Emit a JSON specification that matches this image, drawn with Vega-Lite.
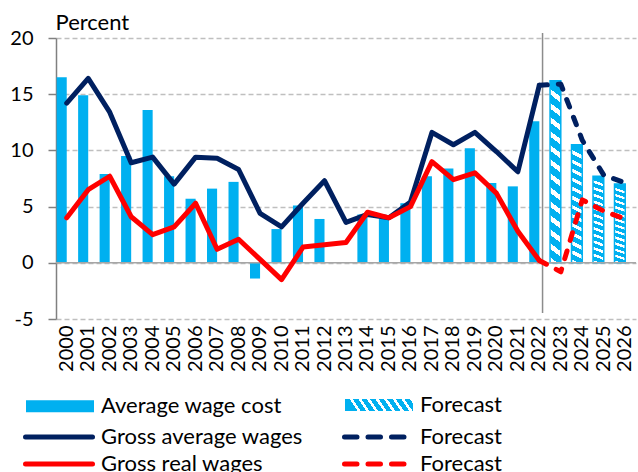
{
  "$schema": "https://vega.github.io/schema/vega-lite/v6.json",
  "autosize": {"type": "none"},
  "width": 580,
  "height": 281,
  "padding": {"left": 56, "top": 38, "right": 2, "bottom": 153},
  "background": "white",
  "config": {
    "view": {"stroke": null},
    "font": "Lato",
    "axis": {"labelFont": "Lato", "titleFont": "Lato", "labelColor": "#000000", "titleColor": "#000000"}
  },
  "datasets": {
    "bars": [
      {"year": "2000", "value": 16.5, "series": "Average wage cost"},
      {"year": "2001", "value": 14.9, "series": "Average wage cost"},
      {"year": "2002", "value": 7.9, "series": "Average wage cost"},
      {"year": "2003", "value": 9.5, "series": "Average wage cost"},
      {"year": "2004", "value": 13.6, "series": "Average wage cost"},
      {"year": "2005", "value": 7.7, "series": "Average wage cost"},
      {"year": "2006", "value": 5.7, "series": "Average wage cost"},
      {"year": "2007", "value": 6.6, "series": "Average wage cost"},
      {"year": "2008", "value": 7.2, "series": "Average wage cost"},
      {"year": "2009", "value": -1.4, "series": "Average wage cost"},
      {"year": "2010", "value": 3.0, "series": "Average wage cost"},
      {"year": "2011", "value": 5.1, "series": "Average wage cost"},
      {"year": "2012", "value": 3.9, "series": "Average wage cost"},
      {"year": "2014", "value": 4.3, "series": "Average wage cost"},
      {"year": "2015", "value": 3.9, "series": "Average wage cost"},
      {"year": "2016", "value": 5.3, "series": "Average wage cost"},
      {"year": "2017", "value": 7.7, "series": "Average wage cost"},
      {"year": "2018", "value": 8.4, "series": "Average wage cost"},
      {"year": "2019", "value": 10.2, "series": "Average wage cost"},
      {"year": "2020", "value": 7.1, "series": "Average wage cost"},
      {"year": "2021", "value": 6.8, "series": "Average wage cost"},
      {"year": "2022", "value": 12.6, "series": "Average wage cost"}
    ],
    "fcbars": [
      {"year": "2023", "value": 16.2, "series": "Forecast awc"},
      {"year": "2024", "value": 10.5, "series": "Forecast awc"},
      {"year": "2025", "value": 7.7, "series": "Forecast awc"},
      {"year": "2026", "value": 7.0, "series": "Forecast awc"}
    ],
    "lines": [
      {"year": "2000", "value": 14.2, "series": "Gross average wages"},
      {"year": "2001", "value": 16.4, "series": "Gross average wages"},
      {"year": "2002", "value": 13.4, "series": "Gross average wages"},
      {"year": "2003", "value": 8.9, "series": "Gross average wages"},
      {"year": "2004", "value": 9.4, "series": "Gross average wages"},
      {"year": "2005", "value": 7.0, "series": "Gross average wages"},
      {"year": "2006", "value": 9.4, "series": "Gross average wages"},
      {"year": "2007", "value": 9.3, "series": "Gross average wages"},
      {"year": "2008", "value": 8.3, "series": "Gross average wages"},
      {"year": "2009", "value": 4.4, "series": "Gross average wages"},
      {"year": "2010", "value": 3.2, "series": "Gross average wages"},
      {"year": "2011", "value": 5.3, "series": "Gross average wages"},
      {"year": "2012", "value": 7.3, "series": "Gross average wages"},
      {"year": "2013", "value": 3.6, "series": "Gross average wages"},
      {"year": "2014", "value": 4.3, "series": "Gross average wages"},
      {"year": "2015", "value": 4.0, "series": "Gross average wages"},
      {"year": "2016", "value": 5.4, "series": "Gross average wages"},
      {"year": "2017", "value": 11.6, "series": "Gross average wages"},
      {"year": "2018", "value": 10.5, "series": "Gross average wages"},
      {"year": "2019", "value": 11.6, "series": "Gross average wages"},
      {"year": "2020", "value": 9.9, "series": "Gross average wages"},
      {"year": "2021", "value": 8.1, "series": "Gross average wages"},
      {"year": "2022", "value": 15.8, "series": "Gross average wages"},
      {"year": "2022", "value": 15.8, "series": "Forecast gw"},
      {"year": "2023", "value": 15.9, "series": "Forecast gw"},
      {"year": "2024", "value": 10.9, "series": "Forecast gw"},
      {"year": "2025", "value": 7.8, "series": "Forecast gw"},
      {"year": "2026", "value": 7.1, "series": "Forecast gw"},
      {"year": "2000", "value": 4.0, "series": "Gross real wages"},
      {"year": "2001", "value": 6.5, "series": "Gross real wages"},
      {"year": "2002", "value": 7.7, "series": "Gross real wages"},
      {"year": "2003", "value": 4.1, "series": "Gross real wages"},
      {"year": "2004", "value": 2.5, "series": "Gross real wages"},
      {"year": "2005", "value": 3.2, "series": "Gross real wages"},
      {"year": "2006", "value": 5.3, "series": "Gross real wages"},
      {"year": "2007", "value": 1.2, "series": "Gross real wages"},
      {"year": "2008", "value": 2.1, "series": "Gross real wages"},
      {"year": "2009", "value": 0.3, "series": "Gross real wages"},
      {"year": "2010", "value": -1.5, "series": "Gross real wages"},
      {"year": "2011", "value": 1.4, "series": "Gross real wages"},
      {"year": "2012", "value": 1.6, "series": "Gross real wages"},
      {"year": "2013", "value": 1.8, "series": "Gross real wages"},
      {"year": "2014", "value": 4.5, "series": "Gross real wages"},
      {"year": "2015", "value": 4.0, "series": "Gross real wages"},
      {"year": "2016", "value": 5.0, "series": "Gross real wages"},
      {"year": "2017", "value": 9.0, "series": "Gross real wages"},
      {"year": "2018", "value": 7.4, "series": "Gross real wages"},
      {"year": "2019", "value": 8.0, "series": "Gross real wages"},
      {"year": "2020", "value": 6.2, "series": "Gross real wages"},
      {"year": "2021", "value": 2.8, "series": "Gross real wages"},
      {"year": "2022", "value": 0.2, "series": "Gross real wages"},
      {"year": "2022", "value": 0.2, "series": "Forecast rw"},
      {"year": "2023", "value": -0.8, "series": "Forecast rw"},
      {"year": "2024", "value": 5.6, "series": "Forecast rw"},
      {"year": "2025", "value": 4.6, "series": "Forecast rw"},
      {"year": "2026", "value": 3.9, "series": "Forecast rw"}
    ]
  },
  "layer": [
    {
      "data": {"name": "bars"},
      "mark": {"type": "bar", "width": {"band": 0.47}, "xOffset": -5.05, "color": "#00B0F0"},
      "encoding": {
        "x": {
          "field": "year",
          "type": "ordinal",
          "scale": {
            "domain": ["2000","2001","2002","2003","2004","2005","2006","2007","2008","2009","2010","2011","2012","2013","2014","2015","2016","2017","2018","2019","2020","2021","2022","2023","2024","2025","2026"],
            "paddingInner": 0, "paddingOuter": 0
          },
          "axis": {
            "title": null, "domain": false, "ticks": false, "labelAngle": -90,
            "labelFontSize": 20, "labelPadding": 6, "labelOverlap": false, "labelBound": false
          }
        },
        "y": {
          "field": "value",
          "type": "quantitative",
          "scale": {"domain": [-5, 20], "nice": false, "zero": false},
          "axis": {
            "values": [-5, 0, 5, 10, 15, 20],
            "labelExpr": "'' + datum.value",
            "title": "Percent", "titleAngle": 0, "titleX": -1, "titleY": -9,
            "titleAlign": "left", "titleBaseline": "alphabetic", "titleFontSize": 22, "titleFontWeight": "normal",
            "labelFontSize": 20, "labelPadding": 15, "labelFlush": false,
            "domainColor": "#808080", "domainWidth": 1.5,
            "tickColor": "#808080", "tickSize": 8, "tickWidth": 1.5,
            "gridColor": "#BFBFBF", "gridDash": [5, 3], "gridWidth": 1.3
          }
        }
      }
    },
    {
      "data": {"name": "fcbars"},
      "mark": {
        "type": "bar", "width": {"band": 0.5}, "xOffset": -5.4, "stroke": "#00B0F0", "strokeWidth": 1.5,
        "fill": {
          "gradient": "linear", "x1": 0.045, "y1": 0, "x2": 0, "y2": 1,
          "stops": [
            {"offset": 0.0, "color": "#00B0F0"}, {"offset": 0.046, "color": "#00B0F0"}, {"offset": 0.046, "color": "#FFFFFF"}, {"offset": 0.0769, "color": "#FFFFFF"},
            {"offset": 0.0769, "color": "#00B0F0"}, {"offset": 0.123, "color": "#00B0F0"}, {"offset": 0.123, "color": "#FFFFFF"}, {"offset": 0.1538, "color": "#FFFFFF"},
            {"offset": 0.1538, "color": "#00B0F0"}, {"offset": 0.2, "color": "#00B0F0"}, {"offset": 0.2, "color": "#FFFFFF"}, {"offset": 0.2308, "color": "#FFFFFF"},
            {"offset": 0.2308, "color": "#00B0F0"}, {"offset": 0.277, "color": "#00B0F0"}, {"offset": 0.277, "color": "#FFFFFF"}, {"offset": 0.3077, "color": "#FFFFFF"},
            {"offset": 0.3077, "color": "#00B0F0"}, {"offset": 0.354, "color": "#00B0F0"}, {"offset": 0.354, "color": "#FFFFFF"}, {"offset": 0.3846, "color": "#FFFFFF"},
            {"offset": 0.3846, "color": "#00B0F0"}, {"offset": 0.431, "color": "#00B0F0"}, {"offset": 0.431, "color": "#FFFFFF"}, {"offset": 0.4615, "color": "#FFFFFF"},
            {"offset": 0.4615, "color": "#00B0F0"}, {"offset": 0.508, "color": "#00B0F0"}, {"offset": 0.508, "color": "#FFFFFF"}, {"offset": 0.5385, "color": "#FFFFFF"},
            {"offset": 0.5385, "color": "#00B0F0"}, {"offset": 0.585, "color": "#00B0F0"}, {"offset": 0.585, "color": "#FFFFFF"}, {"offset": 0.6154, "color": "#FFFFFF"},
            {"offset": 0.6154, "color": "#00B0F0"}, {"offset": 0.662, "color": "#00B0F0"}, {"offset": 0.662, "color": "#FFFFFF"}, {"offset": 0.6923, "color": "#FFFFFF"},
            {"offset": 0.6923, "color": "#00B0F0"}, {"offset": 0.738, "color": "#00B0F0"}, {"offset": 0.738, "color": "#FFFFFF"}, {"offset": 0.7692, "color": "#FFFFFF"},
            {"offset": 0.7692, "color": "#00B0F0"}, {"offset": 0.815, "color": "#00B0F0"}, {"offset": 0.815, "color": "#FFFFFF"}, {"offset": 0.8462, "color": "#FFFFFF"},
            {"offset": 0.8462, "color": "#00B0F0"}, {"offset": 0.892, "color": "#00B0F0"}, {"offset": 0.892, "color": "#FFFFFF"}, {"offset": 0.9231, "color": "#FFFFFF"},
            {"offset": 0.9231, "color": "#00B0F0"}, {"offset": 0.969, "color": "#00B0F0"}, {"offset": 0.969, "color": "#FFFFFF"}, {"offset": 1.0, "color": "#FFFFFF"}
          ]
        }
      },
      "encoding": {
        "x": {"field": "year", "type": "ordinal"},
        "y": {"field": "value", "type": "quantitative"}
      }
    },
    {
      "data": {"values": [{}]},
      "mark": {"type": "rule", "color": "#A6A6A6", "strokeWidth": 1.6},
      "encoding": {"y": {"datum": 0}}
    },
    {
      "data": {"values": [{}]},
      "mark": {"type": "rule", "color": "#8C8C8C", "strokeWidth": 1.5},
      "encoding": {"x": {"datum": "2022", "bandPosition": 0.65}, "y": {"datum": 20.45}, "y2": {"datum": -4.47}}
    },
    {
      "data": {"name": "lines"},
      "mark": {"type": "line", "strokeWidth": 5, "strokeCap": "round", "strokeJoin": "round"},
      "encoding": {
        "x": {"field": "year", "type": "ordinal"},
        "y": {"field": "value", "type": "quantitative"},
        "stroke": {
          "field": "series", "type": "nominal",
          "scale": {
            "domain": ["Average wage cost", "Gross average wages", "Gross real wages", "Forecast awc", "Forecast gw", "Forecast rw"],
            "range": ["#00B0F0", "#002060", "#FF0000", "transparent", "#002060", "#FF0000"]
          },
          "legend": {
            "orient": "none", "legendX": -30, "legendY": 356, "columns": 2, "title": null,
            "padding": 0, "rowPadding": 5, "columnPadding": 31,
            "labelFont": "Lato", "labelFontSize": 22, "labelColor": "#000000", "labelOffset": 53, "labelLimit": 400,
            "symbolSize": 4, "symbolStrokeWidth": 5,
            "labelExpr": "indexof(datum.label, 'Forecast') === 0 ? 'Forecast' : datum.label",
            "encode": {
              "symbols": {
                "update": {
                  "shape": {"signal": "datum.value === 'Average wage cost' ? 'M-8.5,-3.5H54.5V3.5H-8.5Z' : (datum.value === 'Forecast awc' ? 'M-11,-6H57V6H-11Z' : ((datum.value === 'Forecast gw' || datum.value === 'Forecast rw') ? 'M-11.5,0H49.5' : 'M-11.5,0H55.5'))"},
                  "fill": [
                    {"test": "datum.value === 'Average wage cost'", "value": "#00B0F0"},
                    {"test": "datum.value === 'Forecast awc'", "value": {
                      "gradient": "linear", "x1": 0, "y1": 0.12, "x2": 1, "y2": 0,
                      "stops": [
                        {"offset": 0.0, "color": "#00B0F0"}, {"offset": 0.08, "color": "#00B0F0"}, {"offset": 0.08, "color": "#FFFFFF"}, {"offset": 0.125, "color": "#FFFFFF"},
                        {"offset": 0.125, "color": "#00B0F0"}, {"offset": 0.205, "color": "#00B0F0"}, {"offset": 0.205, "color": "#FFFFFF"}, {"offset": 0.25, "color": "#FFFFFF"},
                        {"offset": 0.25, "color": "#00B0F0"}, {"offset": 0.33, "color": "#00B0F0"}, {"offset": 0.33, "color": "#FFFFFF"}, {"offset": 0.375, "color": "#FFFFFF"},
                        {"offset": 0.375, "color": "#00B0F0"}, {"offset": 0.455, "color": "#00B0F0"}, {"offset": 0.455, "color": "#FFFFFF"}, {"offset": 0.5, "color": "#FFFFFF"},
                        {"offset": 0.5, "color": "#00B0F0"}, {"offset": 0.58, "color": "#00B0F0"}, {"offset": 0.58, "color": "#FFFFFF"}, {"offset": 0.625, "color": "#FFFFFF"},
                        {"offset": 0.625, "color": "#00B0F0"}, {"offset": 0.705, "color": "#00B0F0"}, {"offset": 0.705, "color": "#FFFFFF"}, {"offset": 0.75, "color": "#FFFFFF"},
                        {"offset": 0.75, "color": "#00B0F0"}, {"offset": 0.83, "color": "#00B0F0"}, {"offset": 0.83, "color": "#FFFFFF"}, {"offset": 0.875, "color": "#FFFFFF"},
                        {"offset": 0.875, "color": "#00B0F0"}, {"offset": 0.955, "color": "#00B0F0"}, {"offset": 0.955, "color": "#FFFFFF"}, {"offset": 1.0, "color": "#FFFFFF"}
                      ]
                    }},
                    {"value": "transparent"}
                  ],
                  "strokeDash": {"signal": "(datum.value === 'Forecast gw' || datum.value === 'Forecast rw') ? [12.5, 11] : [400, 0]"},
                  "strokeCap": {"signal": "(datum.value === 'Average wage cost' || datum.value === 'Forecast awc') ? 'butt' : 'round'"}
                }
              }
            }
          }
        },
        "strokeDash": {
          "field": "series", "type": "nominal",
          "scale": {
            "domain": ["Gross average wages", "Forecast gw", "Gross real wages", "Forecast rw"],
            "range": [[400, 0], [8, 11], [400, 0], [8, 11]]
          },
          "legend": null
        }
      }
    }
  ]
}
